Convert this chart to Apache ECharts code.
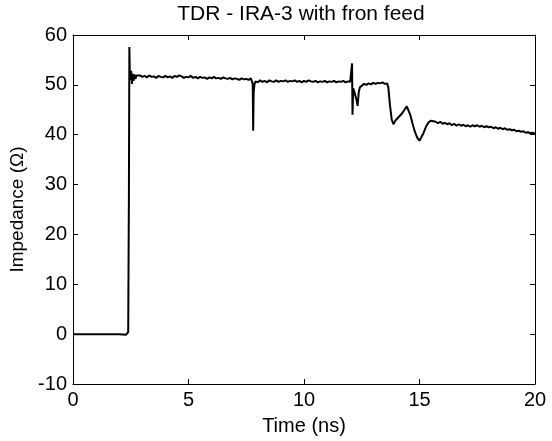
<!DOCTYPE html>
<html>
<head>
<meta charset="utf-8">
<script src="https://cdn.jsdelivr.net/npm/echarts@6/dist/echarts.min.js"></script>
<style>html,body{margin:0;padding:0;background:#fff;}#c{width:552px;height:441px;}</style>
</head>
<body>
<div id="c"></div>
<script>
const titleText = 'TDR - IRA-3 with fron feed';
const xName = 'Time (ns)';
const yName = 'Impedance (\u03A9)';
const xTicks = [0, 5, 10, 15, 20];
const yTicks = [-10, 0, 10, 20, 30, 40, 50, 60];

const times = [
  0, 0.5, 1.0, 1.5, 2.0, 2.3, 2.36, 2.39, 2.42, 2.44, 2.46, 2.49, 2.52, 2.55, 2.58, 2.62, 2.66, 2.7, 2.75,
  2.8, 2.9, 3.0, 3.1, 3.2, 3.3, 3.4, 3.5, 3.6, 3.7, 3.8, 3.9, 4.0, 4.1, 4.2, 4.3, 4.4, 4.5, 4.6, 4.7, 4.8, 4.9,
  5.0, 5.1, 5.2, 5.3, 5.4, 5.5, 5.6, 5.7, 5.8, 5.9, 6.0, 6.1, 6.2, 6.3, 6.4, 6.5, 6.6, 6.7, 6.8, 6.9,
  7.0, 7.1, 7.2, 7.3, 7.4, 7.5, 7.6, 7.7, 7.75, 7.78, 7.8, 7.82, 7.86, 7.9,
  8.0, 8.1, 8.2, 8.3, 8.4, 8.5, 8.6, 8.7, 8.8, 8.9, 9.0, 9.1, 9.2, 9.3, 9.4, 9.5, 9.6, 9.7, 9.8, 9.9,
  10.0, 10.1, 10.2, 10.3, 10.4, 10.5, 10.6, 10.7, 10.8, 10.9, 11.0, 11.1, 11.2, 11.3, 11.4, 11.5, 11.6, 11.7, 11.8, 11.9,
  12.0, 12.05, 12.08, 12.1, 12.13, 12.18, 12.22, 12.27, 12.32, 12.37, 12.42, 12.5, 12.6, 12.7, 12.8, 12.9,
  13.0, 13.1, 13.2, 13.3, 13.4, 13.5, 13.6, 13.65, 13.72, 13.8, 13.87, 13.95, 14.05, 14.15, 14.25, 14.35, 14.45, 14.52, 14.6, 14.7, 14.8, 14.9,
  15.0, 15.08, 15.18, 15.28, 15.38, 15.48, 15.6, 15.7, 15.8, 15.9, 16.0, 16.1, 16.2, 16.3, 16.4, 16.5, 16.6, 16.7, 16.8, 16.9,
  17.0, 17.1, 17.2, 17.3, 17.4, 17.5, 17.6, 17.7, 17.8, 17.9, 18.0, 18.1, 18.2, 18.3, 18.4, 18.5, 18.6, 18.7, 18.8, 18.9,
  19.0, 19.1, 19.2, 19.3, 19.4, 19.5, 19.6, 19.7, 19.8, 19.9, 20.0
];
const impedance = [
  0, 0, 0, 0, 0, -0.1, -0.2, 0.4, 28, 57.6, 52.5, 51, 52.8, 50.2, 52.2, 50.8, 52.1, 51.2, 51.9,
  51.5, 51.9, 51.6, 51.8, 51.5, 51.9, 51.6, 51.7, 51.4, 51.8, 51.6, 51.5, 51.8, 51.5, 51.7, 51.4, 51.8, 51.6, 51.9, 51.7, 51.4, 51.6,
  51.5, 51.8, 51.4, 51.6, 51.3, 51.6, 51.4, 51.5, 51.2, 51.5, 51.3, 51.6, 51.3, 51.4, 51.2, 51.5, 51.3, 51.2, 51.4, 51.1,
  51.3, 51.2, 51.0, 51.3, 51.1, 51.2, 51.0, 51.3, 51.6, 50.2, 40.8, 48.5, 50.2, 50.7,
  50.5, 50.9, 50.6, 50.8, 50.5, 50.9, 50.7, 50.6, 50.9, 50.6, 50.8, 50.7, 50.9, 50.6, 50.8, 50.7, 50.9, 50.6, 50.8, 50.5,
  50.8, 50.6, 50.9, 50.7, 50.6, 50.8, 50.5, 50.7, 50.6, 50.8, 50.5, 50.7, 50.6, 50.8, 50.5, 50.7, 50.6, 50.8, 50.5, 50.7,
  50.6, 50.9, 54.3, 44.0, 49.3, 48.6, 49.0, 47.0, 45.8, 48.5, 49.5, 49.9, 50.2, 50.0, 50.3, 50.1,
  50.4, 50.2, 50.4, 50.3, 50.5, 50.2, 50.3, 49.5, 46.0, 43.0, 42.1, 42.8, 43.3, 43.8, 44.3, 45.0, 45.7, 45.4, 44.0, 42.2, 40.6, 39.4,
  38.8, 39.2, 40.4, 41.6, 42.4, 42.8, 42.7, 42.6, 42.3, 42.6, 42.2, 42.4, 42.1, 42.3, 41.9, 42.2, 41.8, 42.1, 41.8, 42.0,
  41.7, 41.9, 41.6, 41.9, 41.7, 41.9, 41.6, 41.8, 41.5, 41.7, 41.5, 41.6, 41.3, 41.5, 41.2, 41.4, 41.1, 41.3, 41.0, 41.1,
  40.9, 41.0, 40.7, 40.8, 40.6, 40.7, 40.4, 40.5, 40.3, 40.4, 40.2
];

const font = 'Liberation Sans, Arial, sans-serif';
const fs = 20;
const chart = echarts.init(document.getElementById('c'), null, {renderer: 'canvas'});
const data = times.map((t, i) => [t, impedance[i]]);
const axLine = {show: true, onZero: false, lineStyle: {color: '#000', width: 1}};
const tickIn = {show: true, inside: true, length: 5, lineStyle: {color: '#000', width: 1}};
chart.setOption({
  animation: false,
  backgroundColor: '#fff',
  grid: {left: 73, right: 17, top: 35, bottom: 56, containLabel: false},
  graphic: [{
    type: 'text', x: 301, y: 4, silent: true,
    style: {text: titleText, font: '21px ' + font, fill: '#000', textAlign: 'center', textVerticalAlign: 'top'}
  }],
  xAxis: [{
    type: 'value', min: xTicks[0], max: xTicks[xTicks.length - 1], interval: 5,
    name: xName, nameLocation: 'middle', nameGap: 32,
    nameTextStyle: {color: '#000', fontSize: fs, fontFamily: font},
    axisLine: axLine, axisTick: tickIn, splitLine: {show: false},
    axisLabel: {color: '#000', fontSize: fs, fontFamily: font, margin: 6}
  }, {
    type: 'value', position: 'top', min: xTicks[0], max: xTicks[xTicks.length - 1], interval: 5,
    axisLine: axLine, axisTick: tickIn, splitLine: {show: false}, axisLabel: {show: false}
  }],
  yAxis: [{
    type: 'value', min: yTicks[0], max: yTicks[yTicks.length - 1], interval: 10,
    name: yName, nameLocation: 'middle', nameGap: 32,
    nameTextStyle: {color: '#000', fontSize: 19, fontFamily: font},
    axisLine: axLine, axisTick: tickIn, splitLine: {show: false},
    axisLabel: {color: '#000', fontSize: fs, fontFamily: font, margin: 6}
  }, {
    type: 'value', position: 'right', min: yTicks[0], max: yTicks[yTicks.length - 1], interval: 10,
    axisLine: axLine, axisTick: tickIn, splitLine: {show: false}, axisLabel: {show: false}
  }],
  series: [{
    type: 'line', data: data, xAxisIndex: 0, yAxisIndex: 0,
    showSymbol: false, symbol: 'none',
    lineStyle: {color: '#000', width: 2}
  }]
});
</script>
</body>
</html>
